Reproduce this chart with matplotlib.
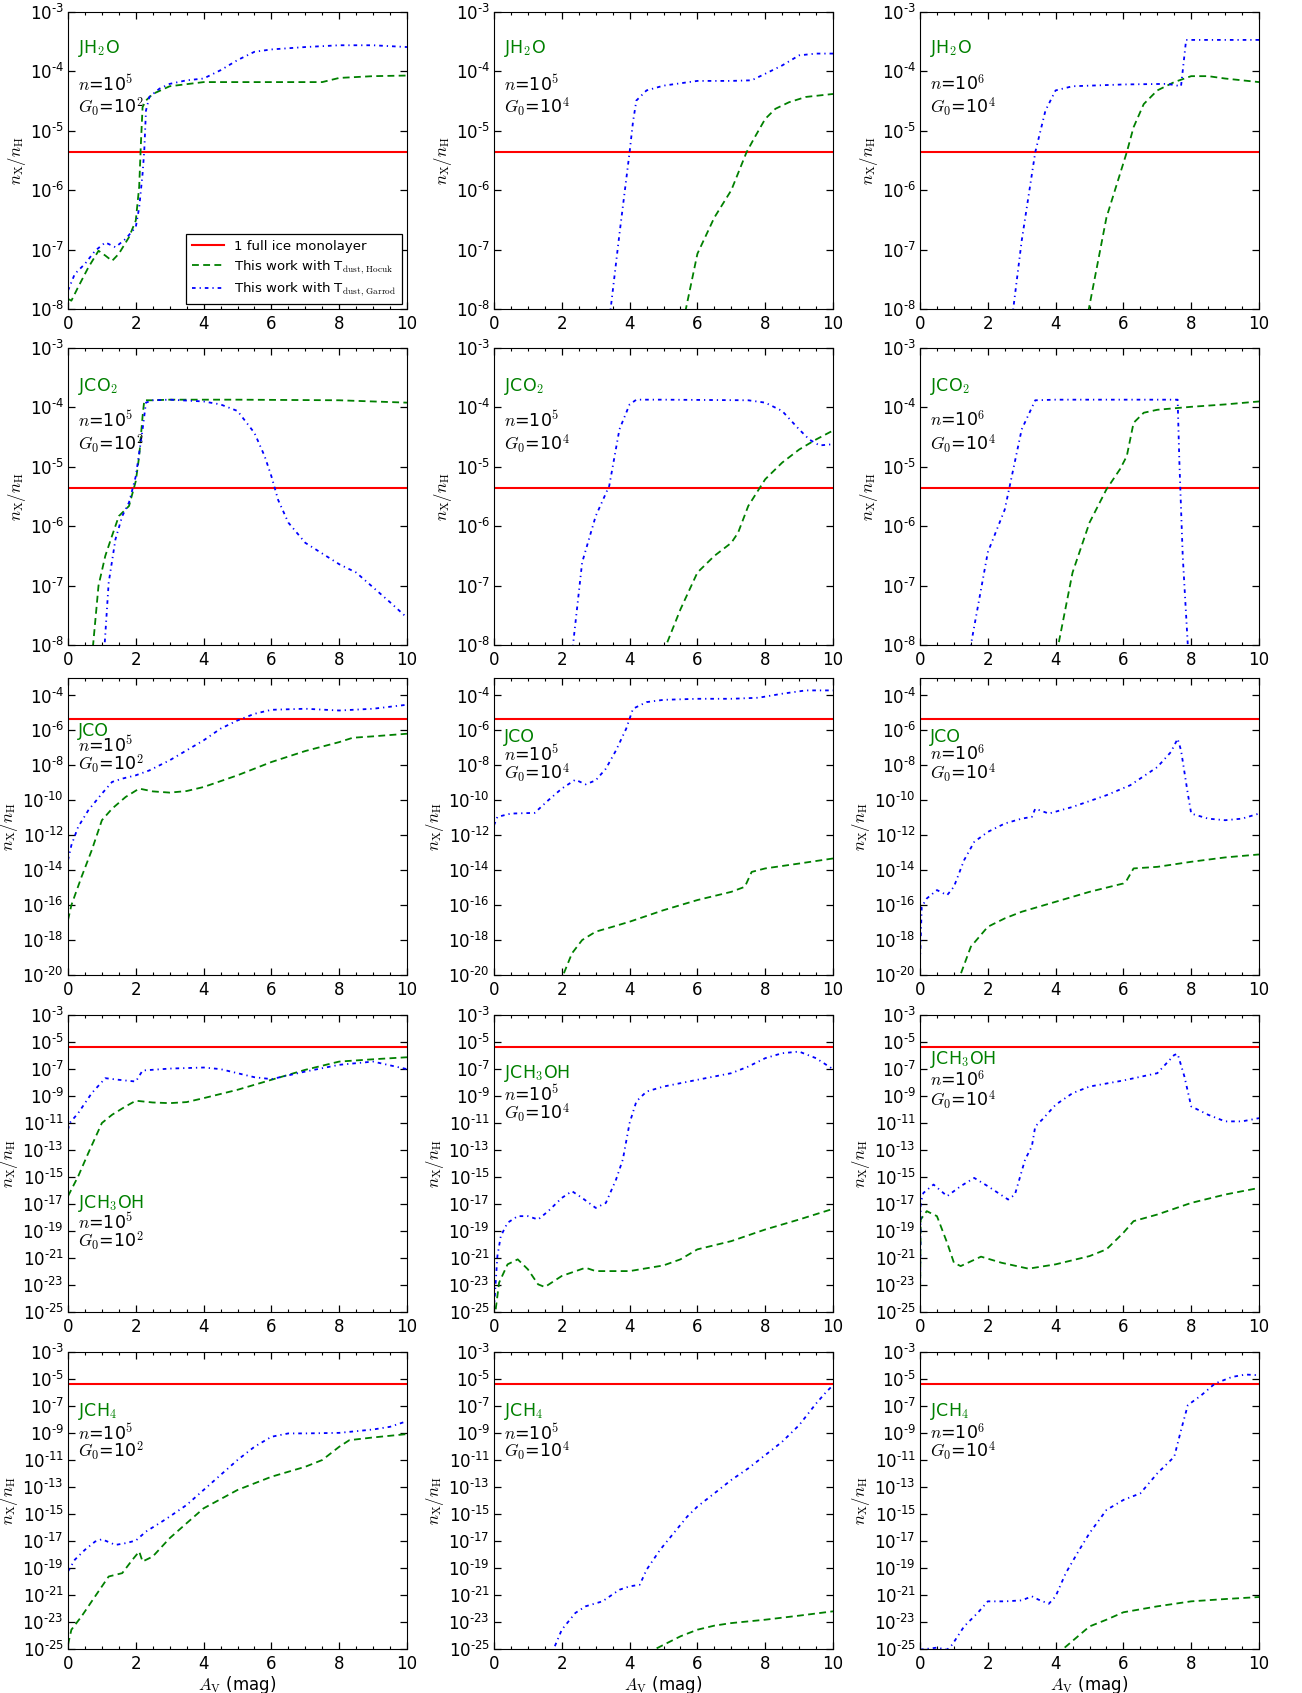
import numpy as np
import matplotlib
matplotlib.use("Agg")
import matplotlib.pyplot as plt
from matplotlib.ticker import FixedLocator, FuncFormatter, MultipleLocator, NullLocator

plt.rcParams["mathtext.fontset"] = "cm"
plt.rcParams["font.family"] = ["DejaVu Sans"]

# log10(n_X / n_H); "garrod" = blue dash-dot, "hocuk" = green dashed
MONOLAYER = 4.4e-6

# JH2O
h2o_a_garrod_av = [0, 0.2, 0.5, 0.8, 1.1, 1.4, 1.7, 2.0, 2.1, 2.2, 2.25, 2.3, 2.4, 2.7, 3.0, 3.5, 4.0, 4.5, 5.0, 5.5, 6.0, 7.0, 8.0, 9.0, 10.0]
h2o_a_garrod = [-7.69, -7.41, -7.24, -7.02, -6.88, -6.96, -6.82, -6.62, -6.29, -5.72, -5.33, -4.66, -4.43, -4.29, -4.21, -4.15, -4.12, -3.98, -3.81, -3.67, -3.63, -3.59, -3.56, -3.56, -3.59]
h2o_a_hocuk_av = [0, 0.1, 0.3, 0.6, 0.9, 1.1, 1.3, 1.5, 1.8, 2.0, 2.1, 2.15, 2.2, 2.3, 2.5, 3.0, 4.0, 6.0, 7.5, 8.0, 9.0, 10.0]
h2o_a_hocuk = [-7.83, -7.86, -7.63, -7.3, -7.02, -7.1, -7.19, -7.07, -6.79, -6.51, -5.94, -5.22, -4.6, -4.49, -4.38, -4.25, -4.18, -4.18, -4.18, -4.11, -4.08, -4.07]

h2o_b_garrod_av = [3.3, 3.44, 3.7, 4.0, 4.1, 4.2, 4.5, 5, 6, 7, 7.6, 8, 8.5, 9, 9.5, 10]
h2o_b_garrod = [-9, -8, -6.74, -5.36, -4.85, -4.49, -4.32, -4.24, -4.16, -4.16, -4.15, -4.04, -3.9, -3.73, -3.70, -3.70]
h2o_b_hocuk_av = [5.5, 5.66, 6, 6.5, 7, 7.45, 7.7, 8, 8.3, 8.7, 9.2, 10]
h2o_b_hocuk = [-8.8, -8, -7.07, -6.46, -6.0, -5.36, -5.1, -4.8, -4.63, -4.52, -4.43, -4.38]

h2o_c_garrod_av = [2.6, 2.75, 3.0, 3.4, 3.7, 4.0, 4.5, 5, 6, 7.3, 7.7, 7.85, 8.5, 10]
h2o_c_garrod = [-9, -8, -6.85, -5.36, -4.66, -4.32, -4.25, -4.24, -4.22, -4.21, -4.25, -3.47, -3.47, -3.47]
h2o_c_hocuk_av = [4.85, 4.98, 5.5, 6.1, 6.3, 6.6, 7, 7.5, 8, 8.5, 9, 10]
h2o_c_hocuk = [-8.8, -8, -6.46, -5.36, -4.94, -4.55, -4.32, -4.18, -4.08, -4.08, -4.12, -4.18]

# JCO2
co2_a_garrod_av = [1.03, 1.08, 1.2, 1.4, 1.6, 1.8, 2.0, 2.2, 2.3, 2.5, 3, 4, 4.5, 5, 5.5, 5.8, 6.0, 6.2, 6.5, 7, 8, 8.5, 9, 9.5, 10]
co2_a_garrod = [-8.6, -8, -6.95, -6.22, -5.83, -5.6, -5.16, -4.37, -3.92, -3.88, -3.87, -3.9, -3.95, -4.06, -4.43, -4.82, -5.16, -5.56, -5.94, -6.28, -6.64, -6.78, -7.03, -7.28, -7.54]
co2_a_hocuk_av = [0.65, 0.74, 0.9, 1.1, 1.3, 1.5, 1.8, 2.0, 2.1, 2.2, 2.25, 2.5, 3, 5, 8, 10]
co2_a_hocuk = [-8.6, -8, -7.0, -6.5, -6.16, -5.83, -5.66, -5.24, -4.82, -4.15, -3.88, -3.88, -3.87, -3.87, -3.88, -3.92]

co2_b_garrod_av = [2.2, 2.33, 2.6, 3.0, 3.4, 3.7, 4.0, 4.2, 5, 7.5, 8, 8.5, 9, 9.3, 9.6, 10]
co2_b_garrod = [-8.7, -8, -6.61, -5.83, -5.32, -4.37, -3.95, -3.87, -3.87, -3.88, -3.92, -4.06, -4.37, -4.54, -4.64, -4.62]
co2_b_hocuk_av = [4.95, 5.08, 5.5, 6, 6.5, 7, 7.2, 7.5, 8, 8.5, 9, 9.5, 10]
co2_b_hocuk = [-8.7, -8, -7.4, -6.78, -6.5, -6.28, -6.11, -5.66, -5.21, -4.93, -4.71, -4.54, -4.39]

co2_c_garrod_av = [1.4, 1.5, 2.0, 2.5, 3.0, 3.4, 4, 7.6, 7.65, 7.75, 7.9, 7.95]
co2_c_garrod = [-8.7, -8, -6.44, -5.72, -4.37, -3.88, -3.87, -3.87, -4.9, -6.5, -8, -8.5]
co2_c_hocuk_av = [3.95, 4.08, 4.5, 5, 5.5, 5.9, 6.1, 6.3, 6.6, 7, 8, 9, 10]
co2_c_hocuk = [-8.7, -8, -6.78, -5.94, -5.38, -5.04, -4.82, -4.26, -4.09, -4.04, -3.99, -3.95, -3.9]

# JCO
co_a_garrod_av = [0, 0.1, 0.3, 0.6, 1.0, 1.3, 1.6, 2, 2.4, 3, 3.5, 4, 4.5, 5, 5.5, 6, 7, 8, 9, 10]
co_a_garrod = [-13.43, -12.57, -11.52, -10.57, -9.62, -8.95, -8.76, -8.57, -8.29, -7.71, -7.14, -6.57, -5.9, -5.43, -5.05, -4.82, -4.76, -4.86, -4.76, -4.53]
co_a_hocuk_av = [0, 0.1, 0.4, 0.7, 1.0, 1.3, 1.7, 2.1, 2.5, 3, 3.5, 4, 5, 6, 7, 8, 8.4, 9, 10]
co_a_hocuk = [-16.86, -16.0, -14.38, -12.86, -11.14, -10.48, -9.81, -9.33, -9.49, -9.56, -9.47, -9.24, -8.57, -7.81, -7.18, -6.67, -6.42, -6.34, -6.19]

co_b_garrod_av = [0, 0.1, 0.5, 1.2, 1.6, 2, 2.4, 2.7, 3, 3.3, 3.6, 3.9, 4.1, 4.5, 5, 6, 7, 7.8, 8.5, 9.2, 10]
co_b_garrod = [-11.43, -10.95, -10.76, -10.72, -10.0, -9.33, -8.82, -9.09, -8.86, -8.19, -7.14, -5.9, -4.76, -4.38, -4.25, -4.19, -4.19, -4.13, -3.9, -3.71, -3.71]
co_b_hocuk_av = [1.95, 2.04, 2.3, 2.6, 3, 3.5, 4, 5, 6, 7, 7.4, 7.6, 8, 9, 10]
co_b_hocuk = [-20.5, -20, -18.76, -18.0, -17.52, -17.24, -16.95, -16.29, -15.71, -15.24, -14.95, -14.1, -13.9, -13.62, -13.33]

co_c_garrod_av = [0, 0.05, 0.2, 0.5, 0.8, 1.0, 1.3, 1.6, 2, 2.5, 3, 3.3, 3.4, 3.8, 4.5, 5.5, 6.2, 7, 7.4, 7.6, 7.7, 7.9, 8.0, 8.5, 9, 9.5, 10]
co_c_garrod = [-19.24, -16.1, -15.62, -15.14, -15.43, -14.95, -13.43, -12.38, -11.81, -11.33, -11.05, -10.95, -10.48, -10.76, -10.38, -9.71, -9.14, -8.1, -7.24, -6.48, -7.14, -9.62, -10.76, -11.05, -11.14, -11.05, -10.76]
co_c_hocuk_av = [1.1, 1.19, 1.5, 2, 2.5, 3, 4, 5, 6, 6.1, 6.3, 7, 8, 9, 10]
co_c_hocuk = [-20.5, -20, -18.38, -17.24, -16.76, -16.38, -15.81, -15.24, -14.76, -14.57, -13.9, -13.81, -13.52, -13.27, -13.1]

# JCH3OH
ch3oh_a_garrod_av = [0, 0.05, 0.3, 0.7, 1.1, 1.5, 2.0, 2.2, 3, 4, 4.5, 5, 5.5, 6, 7, 8, 9, 10]
ch3oh_a_garrod = [-11.5, -11.0, -10.27, -8.79, -7.68, -7.8, -7.93, -7.11, -6.97, -6.89, -7.01, -7.31, -7.61, -7.75, -7.19, -6.69, -6.45, -7.01]
ch3oh_a_hocuk_av = [0, 0.3, 0.6, 1.0, 1.3, 1.7, 2.0, 2.5, 3, 3.5, 4, 5, 6, 7, 8, 9, 10]
ch3oh_a_hocuk = [-16.42, -14.95, -13.22, -11.0, -10.39, -9.77, -9.35, -9.48, -9.53, -9.45, -9.16, -8.54, -7.8, -7.06, -6.45, -6.28, -6.13]

ch3oh_b_garrod_av = [0, 0.05, 0.1, 0.2, 0.4, 0.7, 1.0, 1.3, 1.6, 2.0, 2.3, 2.6, 3.0, 3.3, 3.6, 3.8, 4.0, 4.2, 4.5, 5, 6, 7, 7.5, 8, 8.5, 9, 9.5, 10]
ch3oh_b_garrod = [-24.8, -22.8, -20.86, -19.38, -18.39, -17.9, -17.9, -18.15, -17.53, -16.55, -16.05, -16.55, -17.29, -16.92, -15.19, -13.71, -11.0, -9.4, -8.67, -8.3, -7.8, -7.31, -6.82, -6.2, -5.83, -5.71, -6.2, -7.01]
ch3oh_b_hocuk_av = [0.05, 0.15, 0.4, 0.7, 1.0, 1.3, 1.5, 2, 2.7, 3, 4, 5, 5.5, 6, 7, 8, 9, 10]
ch3oh_b_hocuk = [-24.8, -22.83, -21.47, -21.1, -21.84, -22.95, -23.15, -22.33, -21.72, -21.97, -21.97, -21.55, -21.1, -20.36, -19.75, -18.89, -18.15, -17.36]

ch3oh_c_garrod_av = [0, 0.02, 0.1, 0.4, 0.8, 1.2, 1.6, 2.0, 2.6, 2.8, 3.1, 3.3, 3.4, 3.6, 4, 4.5, 5, 6, 7, 7.5, 7.6, 7.8, 8, 8.5, 9, 9.5, 10]
ch3oh_c_garrod = [-24.8, -16.92, -16.18, -15.56, -16.42, -15.68, -15.07, -15.68, -16.67, -16.3, -13.71, -12.73, -11.25, -10.76, -9.65, -8.79, -8.3, -7.85, -7.31, -5.96, -5.88, -7.56, -9.77, -10.39, -10.88, -10.88, -10.64]
ch3oh_c_hocuk_av = [0, 0.02, 0.2, 0.5, 0.8, 1.0, 1.2, 1.8, 2.4, 3.2, 4, 5, 5.5, 6, 6.3, 7, 8, 9, 10]
ch3oh_c_hocuk = [-25, -18.15, -17.53, -17.9, -19.87, -21.35, -21.6, -20.9, -21.35, -21.79, -21.47, -20.86, -20.36, -19.13, -18.27, -17.78, -16.92, -16.3, -15.81]

# JCH4
ch4_a_garrod_av = [0, 0.2, 0.5, 0.8, 1.0, 1.4, 1.7, 2, 2.3, 2.7, 3, 3.5, 4, 4.5, 5, 5.5, 6, 6.5, 7, 8, 9, 9.5, 10]
ch4_a_garrod = [-19.26, -18.39, -17.65, -17.04, -16.87, -17.29, -17.16, -16.97, -16.3, -15.68, -15.19, -14.33, -13.22, -12.11, -11.0, -10.02, -9.28, -9.03, -9.03, -8.99, -8.74, -8.54, -8.12]
ch4_a_hocuk_av = [0, 0.1, 0.4, 0.8, 1.2, 1.6, 1.9, 2.1, 2.2, 2.5, 3, 3.5, 4, 5, 6, 7, 7.5, 8, 8.3, 9, 10]
ch4_a_hocuk = [-24.68, -23.57, -22.58, -21.1, -19.63, -19.38, -18.39, -17.78, -18.52, -18.15, -16.79, -15.68, -14.58, -13.22, -12.24, -11.5, -11.0, -10.02, -9.53, -9.33, -9.08]

ch4_b_garrod_av = [1.6, 1.76, 2.0, 2.4, 2.7, 3.2, 3.7, 4.0, 4.3, 4.5, 4.9, 5.3, 5.7, 6, 6.5, 7, 7.5, 8, 8.5, 9, 9.5, 9.8, 10]
ch4_b_garrod = [-25.6, -25, -23.57, -22.33, -21.84, -21.47, -20.61, -20.36, -20.24, -19.13, -17.65, -16.42, -15.19, -14.45, -13.47, -12.48, -11.62, -10.64, -9.65, -8.42, -6.82, -5.96, -5.46]
ch4_b_hocuk_av = [4.6, 4.76, 5.5, 6, 6.5, 7, 8, 9, 10]
ch4_b_hocuk = [-25.6, -25, -24.06, -23.57, -23.27, -23.08, -22.83, -22.53, -22.21]

ch4_c_garrod_av = [0, 0.5, 0.8, 0.95, 1.3, 1.7, 2.0, 2.5, 3, 3.3, 3.5, 3.8, 4.0, 4.3, 4.7, 5, 5.5, 6, 6.5, 7, 7.5, 7.7, 7.9, 8.3, 8.7, 9.2, 9.6, 10]
ch4_c_garrod = [-25.05, -24.9, -25.05, -24.68, -23.33, -22.33, -21.47, -21.47, -21.4, -21.1, -21.35, -21.65, -21.1, -19.38, -17.65, -16.42, -14.7, -13.96, -13.47, -11.99, -10.76, -8.79, -6.94, -6.2, -5.34, -4.85, -4.67, -4.72]
ch4_c_hocuk_av = [4.1, 4.22, 5, 5.5, 6, 7, 8, 9, 10]
ch4_c_hocuk = [-25.6, -25, -23.33, -22.83, -22.28, -21.84, -21.47, -21.3, -21.15]

species = [r"JH$_2$O", r"JCO$_2$", "JCO", r"JCH$_3$OH", r"JCH$_4$"]
densities = [r"$n$=10$^5$", r"$n$=10$^5$", r"$n$=10$^6$"]
fields = [r"$G_0$=10$^2$", r"$G_0$=10$^4$", r"$G_0$=10$^4$"]

# (garrod_av, garrod, hocuk_av, hocuk) per row, per column
curves = [
    [(h2o_a_garrod_av, h2o_a_garrod, h2o_a_hocuk_av, h2o_a_hocuk),
     (h2o_b_garrod_av, h2o_b_garrod, h2o_b_hocuk_av, h2o_b_hocuk),
     (h2o_c_garrod_av, h2o_c_garrod, h2o_c_hocuk_av, h2o_c_hocuk)],
    [(co2_a_garrod_av, co2_a_garrod, co2_a_hocuk_av, co2_a_hocuk),
     (co2_b_garrod_av, co2_b_garrod, co2_b_hocuk_av, co2_b_hocuk),
     (co2_c_garrod_av, co2_c_garrod, co2_c_hocuk_av, co2_c_hocuk)],
    [(co_a_garrod_av, co_a_garrod, co_a_hocuk_av, co_a_hocuk),
     (co_b_garrod_av, co_b_garrod, co_b_hocuk_av, co_b_hocuk),
     (co_c_garrod_av, co_c_garrod, co_c_hocuk_av, co_c_hocuk)],
    [(ch3oh_a_garrod_av, ch3oh_a_garrod, ch3oh_a_hocuk_av, ch3oh_a_hocuk),
     (ch3oh_b_garrod_av, ch3oh_b_garrod, ch3oh_b_hocuk_av, ch3oh_b_hocuk),
     (ch3oh_c_garrod_av, ch3oh_c_garrod, ch3oh_c_hocuk_av, ch3oh_c_hocuk)],
    [(ch4_a_garrod_av, ch4_a_garrod, ch4_a_hocuk_av, ch4_a_hocuk),
     (ch4_b_garrod_av, ch4_b_garrod, ch4_b_hocuk_av, ch4_b_hocuk),
     (ch4_c_garrod_av, ch4_c_garrod, ch4_c_hocuk_av, ch4_c_hocuk)],
]

# y range (log10) and tick exponents per row
row_ylim = [(-8, -3), (-8, -3), (-20, -3), (-25, -3), (-25, -3)]
row_ticks = [range(-8, -2), range(-8, -2), range(-20, -3, 2), range(-25, -2, 2), range(-25, -2, 2)]
row_ylabel_x = [-0.118, -0.118, -0.142, -0.142, -0.142]

# label heights in axes fraction: (species, n, G0)
label_y = [
    [(0.876, 0.755, 0.68)] * 3,
    [(0.871, 0.757, 0.677)] * 3,
    [(0.82, 0.772, 0.708), (0.80, 0.742, 0.68), (0.80, 0.742, 0.68)],
    [(0.367, 0.30, 0.238), (0.804, 0.731, 0.67), (0.849, 0.779, 0.714)],
    [(0.80, 0.726, 0.664)] * 3,
]

W, H = 1302, 1693
fig = plt.figure(figsize=(W / 100, H / 100), dpi=100)

col_left = [68, 494, 920]
row_top = [12, 348, 678, 1015, 1352]
ax_w, ax_h = 339, 297


def decade_label(v, pos):
    e = int(round(np.log10(v)))
    sign = "\u2010" if e < 0 else ""
    return "$\\mathdefault{10^{%s%d}}$" % (sign, abs(e))


for r in range(5):
    for c in range(3):
        ax = fig.add_axes([col_left[c] / W, 1 - (row_top[r] + ax_h) / H, ax_w / W, ax_h / H])
        gav, gy, hav, hy = curves[r][c]
        ax.axhline(MONOLAYER, color="#ff0000", lw=1.5, label="1 full ice monolayer")
        ax.plot(hav, np.power(10.0, hy), color="#008000", lw=1.3, ls=(0, (3.8, 2.4)),
                label=r"This work with T$_{\rm dust,\, Hocuk}$")
        ax.plot(gav, np.power(10.0, gy), color="#0000ff", lw=1.3, ls=(0, (2.0, 2.2, 0.7, 2.2)),
                label=r"This work with T$_{\rm dust,\, Garrod}$")
        ax.set_yscale("log")
        lo, hi = row_ylim[r]
        ax.set_ylim(10.0 ** lo, 10.0 ** hi)
        ax.set_xlim(0, 10)
        ax.yaxis.set_major_locator(FixedLocator([10.0 ** e for e in row_ticks[r]]))
        ax.yaxis.set_major_formatter(FuncFormatter(decade_label))
        ax.yaxis.set_minor_locator(NullLocator())
        ax.xaxis.set_major_locator(MultipleLocator(2))
        ax.xaxis.set_minor_locator(MultipleLocator(0.5))
        ax.tick_params(which="both", direction="in", top=True, right=True, labelsize=12)
        ax.tick_params(which="major", length=5, width=0.9)
        ax.tick_params(which="minor", length=2.5, width=0.8)
        ax.tick_params(axis="x", pad=4)
        ax.tick_params(axis="y", pad=3)
        ax.set_ylabel(r"$n_{\rm X}/n_{\rm H}$", fontsize=12)
        ax.yaxis.set_label_coords(row_ylabel_x[r], 0.5)
        if r == 4:
            ax.set_xlabel(r"$A_{\rm V}$ (mag)", fontsize=12, labelpad=1)

        ys, yn, yg = label_y[r][c]
        ax.text(0.03, ys, species[r], transform=ax.transAxes, color="#008000",
                fontsize=12.5, va="center", ha="left")
        ax.text(0.03, yn, densities[c], transform=ax.transAxes, color="k",
                fontsize=12.5, va="center", ha="left")
        ax.text(0.03, yg, fields[c], transform=ax.transAxes, color="k",
                fontsize=12.5, va="center", ha="left")

        if r == 0 and c == 0:
            leg = ax.legend(loc="lower right", fontsize=9.5, fancybox=False, framealpha=1,
                            edgecolor="k", handlelength=2.4, borderaxespad=0.35,
                            labelspacing=0.4, borderpad=0.45)
            leg.get_frame().set_linewidth(0.9)

fig.savefig("out.png", dpi=100)
